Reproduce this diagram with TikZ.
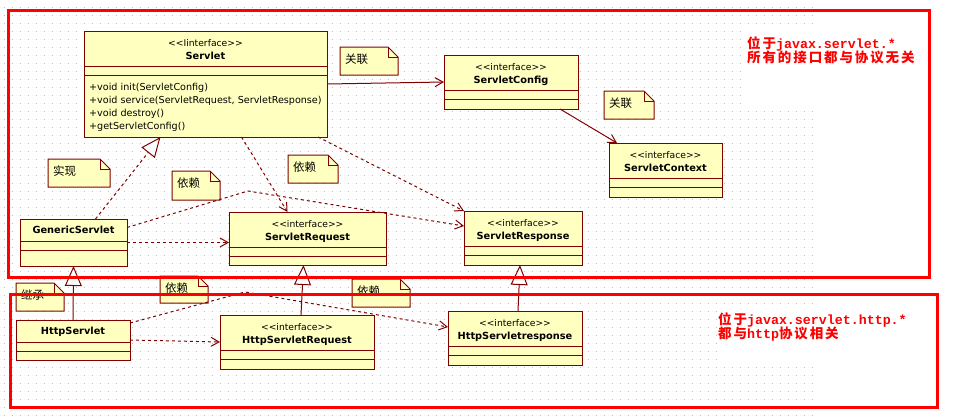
\documentclass[tikz,border=0pt]{standalone}
\usepackage{fontspec}
\setmainfont{DejaVu Sans}
\newfontfamily\cjkfont{Noto Sans CJK SC}
\newfontfamily\redcjk{Noto Sans CJK SC}[LetterSpace=14]
\newfontfamily\redmono{Liberation Mono}
\usetikzlibrary{arrows.meta}

\definecolor{umlline}{HTML}{800000}
\definecolor{umlfill}{HTML}{FFFFC0}
\definecolor{gridgray}{HTML}{C0C0C0}
\definecolor{framered}{HTML}{FF0000}

% <<interface>> without the << >> ligature
\newcommand{\stereo}{<\kern0pt<interface>\kern0pt>}
\newcommand{\cjkpart}[1]{{\redcjk\bfseries\fontsize{13.5}{14}\selectfont #1}}
\newcommand{\monopart}[1]{{\redmono\bfseries\fontsize{13.3}{14}\selectfont #1}}

\tikzset{
  classbox/.style={draw=umlline, fill=umlfill, line width=1pt, inner sep=0pt, outer sep=0pt, anchor=north west},
  compline/.style={draw=umlline, line width=1pt},
  stereotxt/.style={inner sep=0pt, anchor=base, font=\fontsize{9.2}{11}\selectfont},
  nametxt/.style={inner sep=0pt, anchor=base, font=\fontsize{9.8}{12}\selectfont\bfseries},
  methodtxt/.style={inner sep=0pt, anchor=base west, font=\fontsize{9.6}{12}\selectfont},
  notebox/.style={inner sep=0pt, outer sep=0pt, anchor=north west},
  noteline/.style={draw=umlline, fill=umlfill, line width=1pt},
  notetxt/.style={inner sep=0pt, anchor=base west, font=\cjkfont\fontsize{11.5}{13}\selectfont},
  assoc/.style={draw=umlline, line width=1pt, -{Straight Barb[length=8pt,width=9pt]}},
  depend/.style={assoc, dash pattern=on 3pt off 3pt},
  inherit/.style={draw=umlline, line width=1pt, -{Triangle[open, fill=white, length=20pt, width=17pt]}},
  realize/.style={inherit, dash pattern=on 3pt off 3pt},
  redframe/.style={draw=framered, line width=3pt},
  redtxt/.style={inner sep=0pt, anchor=base west, text=framered},
}

% interface box: name, x, y, width, height, title
\newcommand{\iface}[6]{%
  \node[classbox, minimum width=#4, minimum height=#5] (#1) at (#2,#3) {};
  \node[stereotxt] (#1-s) at ([yshift=-15]#1.north) {\stereo};
  \node[nametxt] (#1-n) at ([yshift=-28]#1.north) {#6};
  \draw[compline] ([yshift=-35]#1.north west) -- ([yshift=-35]#1.north east);
  \draw[compline] ([yshift=-44]#1.north west) -- ([yshift=-44]#1.north east);
}
% plain class box
\newcommand{\plainclass}[6]{%
  \node[classbox, minimum width=#4, minimum height=#5] (#1) at (#2,#3) {};
  \node[nametxt] (#1-n) at ([yshift=-14.5]#1.north) {#6};
  \draw[compline] ([yshift=-22]#1.north west) -- ([yshift=-22]#1.north east);
  \draw[compline] ([yshift=-31]#1.north west) -- ([yshift=-31]#1.north east);
}
% note with folded corner
\newcommand{\umlnote}[6]{%
  \node[notebox, minimum width=#4, minimum height=#5] (#1) at (#2,#3) {};
  \draw[noteline] (#1.north west) -- ([xshift=-10]#1.north east) -- ([yshift=-10]#1.north east)
    -- (#1.south east) -- (#1.south west) -- cycle;
  \draw[compline] ([xshift=-10]#1.north east) -- ([xshift=-10,yshift=-10]#1.north east) -- ([yshift=-10]#1.north east);
  \node[notetxt] (#1-t) at ([xshift=5,yshift=-16]#1.north west) {#6};
}

\begin{document}
\begin{tikzpicture}[x=1pt,y=-1pt]
  \useasboundingbox (0,0) rectangle (954,418);

  % dotted grid
  \foreach \r in {0,...,51}
    \draw[gridgray, line width=1pt, dash pattern=on 1pt off 7pt] (3.5,7+8*\r) -- (813,7+8*\r);
  \fill[white] (741,27) rectangle (815,104);
  \fill[white] (719,307) rectangle (815,363);

  % notes
  \umlnote{assocA}{340}{47}{58}{28}{关联}
  \umlnote{assocB}{604}{91}{50}{28}{关联}
  \umlnote{impl}{48}{159}{62}{28}{实现}
  \umlnote{depA}{172}{171}{48}{29}{依赖}
  \umlnote{depB}{288}{155}{50}{28}{依赖}
  \umlnote{inh}{16}{283}{48}{28}{继承}
  \umlnote{depC}{160}{276}{48}{27}{依赖}
  \umlnote{depD}{352}{279}{58}{28}{依赖}

  % Servlet
  \node[classbox, minimum width=243, minimum height=106] (servlet) at (84,31) {};
  \node[stereotxt] (servlet-s) at ([yshift=-15]servlet.north) {<\kern0pt<Iinterface>\kern0pt>};
  \node[nametxt] (servlet-n) at ([yshift=-28]servlet.north) {Servlet};
  \draw[compline] ([yshift=-35]servlet.north west) -- ([yshift=-35]servlet.north east);
  \draw[compline] ([yshift=-44]servlet.north west) -- ([yshift=-44]servlet.north east);
  \foreach \m [count=\i] in {{+void init(ServletConfig)},
      {+void service(ServletRequest, ServletResponse)},
      {+void destroy()}, {+getServletConfig()}}
    \node[methodtxt] (m\i) at (89,77+13*\i) {\m};

  \iface{config}{444}{55}{134}{54}{ServletConfig}
  \iface{context}{609}{143}{113}{54}{ServletContext}
  \iface{request}{229}{212}{157}{53}{ServletRequest}
  \iface{response}{464}{211}{118}{54}{ServletResponse}
  \iface{httpreq}{220}{315}{154}{54}{HttpServletRequest}
  \iface{httpresp}{448}{311}{134}{54}{HttpServletresponse}
  \plainclass{generic}{20}{219}{107}{47}{GenericServlet}
  \plainclass{http}{16}{320}{114}{40}{HttpServlet}

  % connectors
  \draw[assoc] (servlet.east) -- (config.west);
  \draw[assoc] ([xshift=-18]config.south east) -- ([xshift=8]context.north west);
  \draw[realize] ([xshift=22]generic.north) -- ([xshift=-45]servlet.south);
  \draw[depend] ([xshift=36]servlet.south) -- ([xshift=-20]request.north);
  \draw[depend] ([xshift=-9]servlet.south east) -- (response.north west);
  \draw[depend] (generic.east) -- (request.west |- generic.east);
  \coordinate (bendA) at (248,191);
  \draw[depend] ([yshift=15]generic.east) -- (bendA) -- ([yshift=12]response.west);
  \draw[inherit] (http.north) -- (generic.south);
  \draw[inherit] ([xshift=4]httpreq.north) -- ([xshift=-4]request.south);
  \draw[inherit] ([xshift=3]httpresp.north) -- ([xshift=-3]response.south);
  \draw[depend] (http.east) -- (httpreq.west);
  \coordinate (bendB) at (245,292);
  \draw[depend] ([yshift=17]http.east) -- (bendB) -- ([yshift=11]httpresp.west);

  % package remarks
  \node[redtxt] (pkgA1) at (747,48.5) {\cjkpart{位于}\monopart{javax.servlet.*}};
  \node[redtxt] (pkgA2) at (747,62.5) {\cjkpart{所有的接口都与协议无关}};
  \node[redtxt] (pkgB1) at (718,324.5) {\cjkpart{位于}\monopart{javax.servlet.http.*}};
  \node[redtxt] (pkgB2) at (718,338) {\cjkpart{都与}\monopart{http}\cjkpart{协议相关}};

  % package frames
  \draw[redframe] (8.5,10) rectangle (929.3,277);
  \draw[redframe] (10.5,294.7) rectangle (937.3,407.3);
\end{tikzpicture}
\end{document}
